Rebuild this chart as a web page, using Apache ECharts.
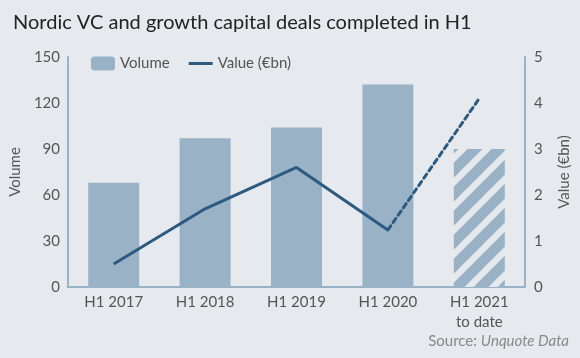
<!DOCTYPE html>
<html><head><meta charset="utf-8">
<script src="https://cdn.jsdelivr.net/npm/echarts@6/dist/echarts.min.js"></script>
<style>html,body{margin:0;padding:0;background:#e6e9ee}#c{width:580px;height:358px}</style>
</head><body><div id="c"></div>
<script>
const categories = ['H1 2017', 'H1 2018', 'H1 2019', 'H1 2020', 'H1 2021\nto date'];
const volume = [68, 97, 104, 132, 90];
const value = [0.5, 1.7, 2.6, 1.24, 4.1];
const leftTicks = [0, 30, 60, 90, 120, 150];
const rightTicks = [0, 1, 2, 3, 4, 5];

const BG = '#e6e9ee', BAR = '#9ab2c6', LINE = '#2c5a80', AX = '#9ab2c6', TXT = '#555';
const FONT = 'Lato';

// hatch pattern
const pc = document.createElement('canvas');
pc.width = 24; pc.height = 24;
const g = pc.getContext('2d');
g.fillStyle = BG; g.fillRect(0, 0, 24, 24);
g.strokeStyle = BAR; g.lineWidth = 10.5;
[-24, 0, 24].forEach(o => { g.beginPath(); g.moveTo(o - 4, 28); g.lineTo(o + 28, -4); g.stroke(); });

const nSolid = value.length - 1;
const solid = value.map((v, i) => i < nSolid ? v : '-');
const dashed = value.map((v, i) => i >= nSolid - 1 ? v : '-');

const chart = echarts.init(document.getElementById('c'));
chart.setOption({
  backgroundColor: BG,
  animation: false,
  textStyle: { fontFamily: FONT },
  title: { text: 'Nordic VC and growth capital deals completed in H1', left: 8, top: 8,
    textStyle: { fontFamily: FONT, fontSize: 20, fontWeight: 'normal', color: '#222' } },
  legend: { left: 86, top: 51, itemWidth: 24, itemHeight: 14, itemGap: 19,
    data: [{ name: 'Volume' }, { name: 'Value (€bn)', icon: 'path://M0,0 L24,0 L24,3 L0,3 Z', itemStyle: { color: LINE } }],
    textStyle: { fontFamily: FONT, fontSize: 15, color: TXT } },
  grid: { left: 63, right: 53, top: 57, bottom: 71, containLabel: false },
  xAxis: { type: 'category', data: categories,
    axisLine: { lineStyle: { color: AX, width: 2 } }, axisTick: { show: false },
    axisLabel: { fontFamily: FONT, fontSize: 15, color: TXT, margin: 5, lineHeight: 20 } },
  yAxis: [
    { type: 'value', min: leftTicks[0], max: leftTicks[leftTicks.length - 1], interval: 30,
      name: 'Volume', nameLocation: 'middle', nameGap: 38,
      nameTextStyle: { fontFamily: FONT, fontSize: 15, color: TXT },
      axisLine: { show: true, lineStyle: { color: AX, width: 2 } }, axisTick: { show: false },
      splitLine: { show: false },
      axisLabel: { fontFamily: FONT, fontSize: 15, color: TXT, margin: 8 } },
    { type: 'value', min: rightTicks[0], max: rightTicks[rightTicks.length - 1], interval: 1,
      name: 'Value (€bn)', nameLocation: 'middle', nameGap: 32,
      nameTextStyle: { fontFamily: FONT, fontSize: 15, color: TXT },
      axisLine: { show: true, lineStyle: { color: AX, width: 2 } }, axisTick: { show: false },
      splitLine: { show: false },
      axisLabel: { fontFamily: FONT, fontSize: 15, color: TXT, margin: 9 } }
  ],
  series: [
    { name: 'Volume', type: 'bar', barWidth: 51, itemStyle: { color: BAR },
      data: volume.map((v, i) => i === volume.length - 1 ? { value: v, itemStyle: { color: { image: pc, repeat: 'repeat' } } } : v) },
    { name: 'Value (€bn)', type: 'line', yAxisIndex: 1, symbol: 'none', data: solid,
      itemStyle: { color: LINE }, lineStyle: { color: LINE, width: 3 } },
    { name: 'Value dashed', type: 'line', yAxisIndex: 1, symbol: 'none', data: dashed,
      itemStyle: { color: LINE }, lineStyle: { color: LINE, width: 3, type: [5, 4], cap: 'round' } }
  ],
  graphic: [{ type: 'text', right: 11, top: 334,
    style: { rich: { a: { fontFamily: FONT, fontSize: 15, fill: '#888' }, b: { fontFamily: FONT, fontSize: 15, fill: '#888', fontStyle: 'italic' } },
      text: '{a|Source: }{b|Unquote Data}' } }]
});
</script></body></html>
